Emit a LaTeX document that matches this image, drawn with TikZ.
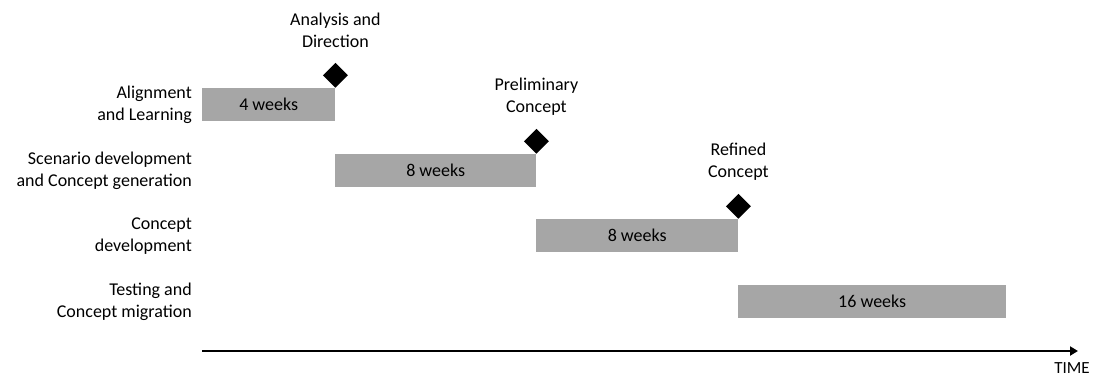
\documentclass[tikz,border=0pt]{standalone}
\usepackage{fontspec}
\setmainfont{Carlito}
\usetikzlibrary{shapes.geometric,arrows.meta}
\definecolor{barfill}{RGB}{166,166,166}
\begin{document}
\begin{tikzpicture}[x=1pt,y=-1pt,
  font=\fontsize{18}{22}\selectfont,
  bar/.style={rectangle, fill=barfill, inner sep=0pt, minimum height=33pt, anchor=north west},
  milestone/.style={diamond, fill=black, inner sep=0pt, minimum width=25pt, minimum height=25pt, anchor=south},
  msname/.style={align=center, inner sep=0pt},
  rowname/.style={align=right, anchor=east, inner sep=0pt}]
\useasboundingbox (0,0) rectangle (1096,376);

% phase bars
\node[bar, minimum width=133pt] (b1) at (202,88) {4 weeks};
\node[bar, minimum width=201pt] (b2) at (335,154) {8 weeks};
\node[bar, minimum width=202pt] (b3) at (536,219) {8 weeks};
\node[bar, minimum width=268pt] (b4) at (738,285) {16 weeks};

% phase names
\node[rowname] (r1) at (192,105) {Alignment\\and Learning};
\node[rowname] (r2) at (192,170.5) {Scenario development\\and Concept generation};
\node[rowname] (r3) at (192,236) {Concept\\development};
\node[rowname] (r4) at (192,301.5) {Testing and\\Concept migration};

% milestones
\node[milestone] (m1) at (b1.north east) {};
\node[milestone] (m2) at (b2.north east) {};
\node[milestone] (m3) at (b3.north east) {};
\node[msname] (t1) at ([yshift=45pt]m1.center) {Analysis and\\Direction};
\node[msname] (t2) at ([yshift=45pt]m2.center) {Preliminary\\Concept};
\node[msname] (t3) at ([yshift=45pt]m3.center) {Refined\\Concept};

% time axis
\coordinate (a0) at (202,351);
\coordinate (a1) at (1078,351);
\draw[line width=2pt, -{Triangle[length=8pt,width=9pt]}] (a0) -- (a1);
\node[inner sep=0pt, font=\fontsize{17}{20}\selectfont] (tm) at (1072,368) {TIME};
\end{tikzpicture}
\end{document}
